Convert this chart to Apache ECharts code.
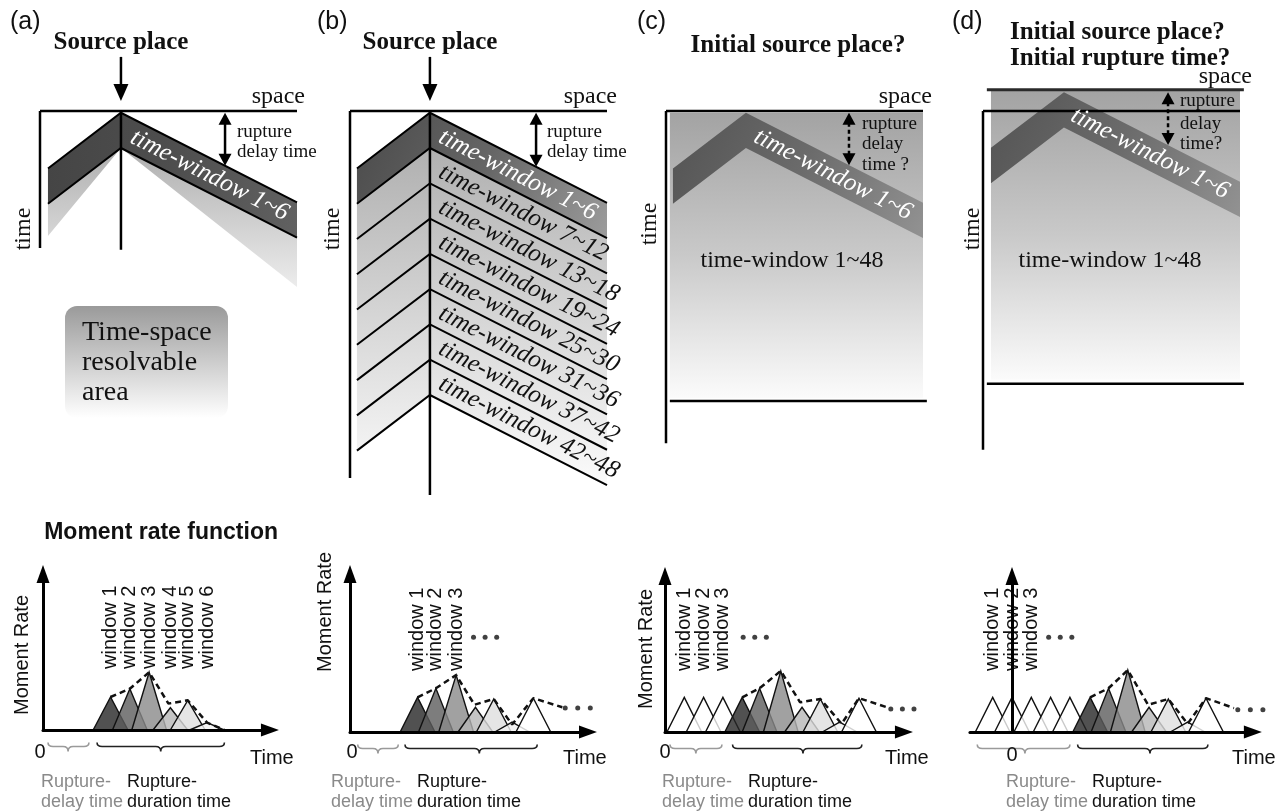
<!DOCTYPE html>
<html>
<head>
<meta charset="utf-8">
<title>Multi time-window rupture schematic</title>
<script src="https://cdn.jsdelivr.net/npm/echarts@6.0.0/dist/echarts.min.js"></script>
<style>
html, body { margin: 0; padding: 0; background: #ffffff; }
#chart { width: 1283px; height: 812px; }
</style>
</head>
<body>
<div id="chart"></div>
<script>
// ---------------- values ----------------
const panelTags = ['(a)', '(b)', '(c)', '(d)'];
const windowGroups = ['1~6', '7~12', '13~18', '19~24', '25~30', '31~36', '37~42', '42~48'];
const windowsPerGroup = 6;                    // time windows covered by one band
const sourceSpace = [31.5, 31.1, 31.1, 31.5]; // space position of the source in each schematic
const sourceTime = [0.3, 0.3, 0.3, -3.2];     // time of the first rupture front at the source
const frontFast = [3.0, 4.5];                 // rupture front speed [to smaller space, to larger space]
const frontSlow = [1.9, 2.9];                 // slowest front bounding the resolvable area

// moment-rate triangles: [peak time, amplitude]
const triangleHalfWidth = 0.9;
const delayTriA = [];
const delayTriB = [];
const delayTriC = [[1, 2.1], [2, 2.1], [3, 2.1]];
const delayTriD = [[-1, 2.1], [0, 2.1], [1, 2.1], [2, 2.1], [3, 2.1]];
const windowTriA = [[3.5, 2.0], [4.5, 2.5], [5.5, 3.5], [6.6, 1.35], [7.5, 1.8], [8.5, 0.45]];
const windowTriB = [[3.5, 2.1], [4.45, 2.65], [5.5, 3.45], [6.5, 1.5], [7.45, 2.0], [8.4, 0.6], [9.5, 2.05]];
const windowTriC = [[4.0, 2.1], [4.9, 2.65], [6.0, 3.7], [7.1, 1.5], [8.05, 2.0], [9.05, 0.6], [10.05, 2.05]];
const windowTriD = [[4.05, 2.1], [5.0, 2.65], [6.0, 3.75], [7.1, 1.5], [8.1, 2.0], [9.1, 0.6], [10.05, 2.05]];

// summed moment rate (dashed envelope)
const envelopeA = [[3.5, 2.0], [4.5, 2.5], [5.5, 3.5], [6.5, 1.6], [7.5, 1.8], [8.5, 0.45], [9.4, 0]];
const envelopeB = [[3.5, 2.1], [4.45, 2.65], [5.5, 3.45], [6.45, 1.65], [7.45, 2.0], [8.4, 0.45], [9.5, 2.05], [11.0, 1.5]];
const envelopeC = [[4.0, 2.1], [4.9, 2.65], [6.0, 3.7], [7.0, 1.8], [8.05, 2.0], [9.15, 0.5], [10.05, 2.05], [11.5, 1.5]];
const envelopeD = [[4.05, 2.1], [5.0, 2.65], [6.0, 3.75], [7.05, 1.65], [8.1, 2.0], [9.1, 0.5], [10.05, 2.05], [11.5, 1.45]];

// "..." continuation marks
const moreDotsA = [];
const moreDotsB = [[6.4, 5.75], [7.0, 5.75], [7.6, 5.75], [11.15, 1.45], [11.8, 1.45], [12.45, 1.45]];
const moreDotsC = [[4.05, 5.75], [4.65, 5.75], [5.25, 5.75], [11.7, 1.4], [12.3, 1.4], [12.9, 1.4]];
const moreDotsD = [[1.9, 5.75], [2.5, 5.75], [3.1, 5.75], [11.7, 1.35], [12.35, 1.35], [13.0, 1.35]];

// braces: [from, to, tip, 0 = rupture delay / 1 = rupture duration]
const bracesA = [[0.26, 2.38, 1.3, 0], [2.8, 9.4, 6.1, 1]];
const bracesB = [[0.4, 2.5, 1.45, 0], [2.85, 9.7, 6.7, 1]];
const bracesC = [[0.26, 2.95, 1.6, 0], [3.5, 10.2, 7.15, 1]];
const bracesD = [[-1.8, 3.0, 0.67, 0], [3.4, 10.15, 7.15, 1]];

// ---------------- layout ----------------
const SERIF = '"Liberation Serif", "Times New Roman", serif';
const SANS = '"Liberation Sans", Arial, Helvetica, sans-serif';
const S_PX = 2.57, T_PX = 5.88;      // schematic scales (px per unit)
const BT_PX = 19.3, BV_PX = 16.5;    // moment-rate scales (px per unit)

const topFrames = [
  { left: 40, zero: 111, tMin: -10, tMax: 31 },
  { left: 350, zero: 111, tMin: -10, tMax: 66 },
  { left: 666, zero: 111, tMin: -5, tMax: 57 },
  { left: 983, zero: 111, tMin: -5, tMax: 58 }
];
const topLayouts = [
  { kind: 'fan', sL: 3.1, sR: 100, axisEnd: 23.3, centreEnd: 23.6, delayS: 72, labelS: 66 },
  { kind: 'stack', sL: 2.7, sR: 100, axisEnd: 62.4, centreEnd: 65.3, delayS: 72.4 },
  { kind: 'box', sL: 2.7, sR: 100, axisEnd: 56.5, box: [1.5, 0.3, 100, 48.8], base: [1.5, 101.5, 49.3], delayS: 71.2, labelS: 65 },
  { kind: 'box', sL: 3.1, sR: 100, axisEnd: 57.6, box: [3.1, -3.4, 100, 45.7], base: [1.5, 101.5, 46.4], upper: [1.5, 101.5, -3.6], delayS: 72, labelS: 65 }
];
const bottomFrames = [
  { originX: 43, originY: 730, tMin: 0, tMax: 11.76, vMax: 9.45 },
  { originX: 350, originY: 732, tMin: 0, tMax: 12.33, vMax: 9.58 },
  { originX: 665, originY: 732, tMin: 0, tMax: 12.38, vMax: 9.45 },
  { originX: 1012, originY: 732, tMin: -2.18, tMax: 12.48, vMax: 9.45 }
];

const windowFills = ['#262626', '#5c5c5c', '#8a8a8a', '#b6b6b6', '#dedede', '#f3f3f3', '#ffffff'];
const labelLevel = 3.7;
const braceLevel = -1.0;

// ---------------- drawing helpers ----------------
function gradient(x1, y1, x2, y2, colors) {
  return new echarts.graphic.LinearGradient(x1, y1, x2, y2,
    colors.map((c, i) => ({ offset: i / (colors.length - 1), color: c })), true);
}
function poly(points, fill) {
  return { type: 'polygon', shape: { points: points }, style: { fill: fill, stroke: null } };
}
function pline(points, w) {
  return { type: 'polyline', shape: { points: points }, style: { stroke: '#000', lineWidth: w, fill: 'none', lineJoin: 'miter' } };
}
function seg(a, b, w, color, dash) {
  return { type: 'line', shape: { x1: a[0], y1: a[1], x2: b[0], y2: b[1] },
    style: { stroke: color || '#000', lineWidth: w, lineDash: dash || null } };
}
function head(tip, from, len, half) {
  const dx = tip[0] - from[0], dy = tip[1] - from[1], L = Math.hypot(dx, dy);
  const ux = dx / L, uy = dy / L, bx = tip[0] - ux * len, by = tip[1] - uy * len;
  return { type: 'polygon', shape: { points: [tip, [bx - uy * half, by + ux * half], [bx + uy * half, by - ux * half]] },
    style: { fill: '#000' } };
}

// ---------------- time-space schematics ----------------
function renderTop(p) {
  const L = topLayouts[p];
  return function (params, api) {
    const x0 = sourceSpace[p], t0 = sourceTime[p], W = windowsPerGroup;
    const c = (s, t) => api.coord([s, t]);
    const lag = (s, v) => (s < x0 ? (x0 - s) / v[0] : (s - x0) / v[1]);
    const front = s => t0 + lag(s, frontFast);
    const chevron = dt => [c(L.sL, front(L.sL) + dt), c(x0, t0 + dt), c(L.sR, front(L.sR) + dt)];
    const band = (a, b) => chevron(a).concat(chevron(b).reverse());
    const apex = c(x0, t0), wingEnd = c(L.sR, front(L.sR));
    const tilt = -Math.atan2(wingEnd[1] - apex[1], wingEnd[0] - apex[0]);
    const xl = c(L.sL, 0)[0], xr = c(L.sR, 0)[0];
    const kids = [];

    if (L.kind === 'fan') {
      const slowEdge = s => t0 + W + lag(s, frontSlow);
      const fan = chevron(0).concat([c(L.sR, slowEdge(L.sR)), c(x0, t0 + W), c(L.sL, slowEdge(L.sL))]);
      kids.push(poly(fan, gradient(0, apex[1], 0, c(0, slowEdge(L.sR))[1], ['#9e9e9e', '#c6c6c6', '#ececec'])));
      kids.push(poly(band(0, W), gradient(xl, 0, xr, 0, ['#454545', '#4e4e4e', '#616161'])));
      kids.push(pline(chevron(0), 2), pline(chevron(W), 2));
    } else if (L.kind === 'stack') {
      const n = windowGroups.length;
      kids.push(poly(band(W, n * W), gradient(0, c(0, t0 + W)[1], 0, c(0, front(L.sR) + n * W)[1], ['#b0b0b0', '#fbfbfb'])));
      kids.push(poly(band(0, W), gradient(xl, apex[1], xr, c(L.sR, front(L.sR) + W)[1], ['#4a4a4a', '#666666', '#9c9c9c'])));
      for (let k = 0; k <= n; k++) kids.push(pline(chevron(k * W), 2));
    } else {
      const b = L.box;
      kids.push(poly([c(b[0], b[1]), c(b[2], b[1]), c(b[2], b[3]), c(b[0], b[3])],
        gradient(0, c(0, b[1])[1], 0, c(0, b[3])[1], ['#a3a3a3', '#c9c9c9', '#fbfbfb'])));
      kids.push(poly(band(0, W), gradient(xl, apex[1], xr, c(L.sR, front(L.sR) + W)[1], ['#535353', '#6b6b6b', '#929292'])));
      if (L.upper) kids.push(seg(c(L.upper[0], L.upper[2]), c(L.upper[1], L.upper[2]), 3, '#2a2a2a'));
      kids.push(seg(c(L.base[0], L.base[2]), c(L.base[1], L.base[2]), 2.5));
    }

    // space and time axes of the schematic
    kids.push(seg(c(0, 0), c(100, 0), 2.5));
    kids.push(seg(c(0, 0), c(0, L.axisEnd), 2.5));
    if (L.centreEnd) kids.push(seg(c(x0, 0), c(x0, L.centreEnd), 2.5));

    // arrow down onto the source
    if (L.kind !== 'box') {
      const a = c(x0, -9.2), tip = c(x0, -1.7);
      kids.push(seg(a, [tip[0], tip[1] - 12], 2.5));
      kids.push(head(tip, a, 17, 7.5));
    }

    // rupture delay time arrow
    const top = c(L.delayS, t0), bottom = c(L.delayS, front(L.delayS));
    kids.push(seg([top[0], top[1] + 10], [bottom[0], bottom[1] - 10], 2.5, '#000', L.kind === 'box' ? [4, 3] : null));
    kids.push(head(top, bottom, 12, 6.5), head(bottom, top, 12, 6.5));

    // band labels
    const label = (s, k, color, align) => {
      const pt = c(s, front(s) + k * W + W / 2);
      return { type: 'text', x: pt[0], y: pt[1], rotation: tilt,
        style: { text: 'time-window ' + windowGroups[k], font: 'italic 25px ' + SERIF, fill: color,
          align: align, verticalAlign: 'middle', textAlign: align, textVerticalAlign: 'middle' } };
    };
    if (L.kind === 'stack') {
      windowGroups.forEach((g, k) => kids.push(label(x0 + 4, k, k === 0 ? '#ffffff' : '#111111', 'left')));
    } else {
      kids.push(label(L.labelS, 0, '#ffffff', 'center'));
    }
    return { type: 'group', children: kids };
  };
}

// ---------------- moment-rate panels ----------------
function renderTriangle(params, api) {
  const peak = api.value(0), amp = api.value(1), k = api.value(2);
  const pts = [api.coord([peak - triangleHalfWidth, 0]), api.coord([peak, amp]), api.coord([peak + triangleHalfWidth, 0])];
  const fill = k < 0 ? 'rgba(255,255,255,0.78)' : echarts.color.modifyAlpha(windowFills[k], 0.8);
  return { type: 'polygon', shape: { points: pts }, style: { fill: fill, stroke: '#111', lineWidth: 1.4, lineJoin: 'miter' } };
}
function renderWindowLabel(params, api) {
  const pt = api.coord([api.value(0), api.value(1)]);
  return { type: 'text', x: pt[0], y: pt[1], rotation: Math.PI / 2,
    style: { text: 'window ' + (params.dataIndex + 1), font: '20px ' + SANS, fill: '#111',
      align: 'left', verticalAlign: 'middle', textAlign: 'left', textVerticalAlign: 'middle' } };
}
function renderBrace(params, api) {
  const a = api.coord([api.value(0), braceLevel]), b = api.coord([api.value(1), braceLevel]), m = api.coord([api.value(2), braceLevel]);
  const y = a[1], r = 5;
  const d = 'M' + a[0] + ',' + (y - 4) + ' Q' + a[0] + ',' + y + ' ' + (a[0] + r) + ',' + y +
    ' L' + (m[0] - r) + ',' + y + ' Q' + m[0] + ',' + y + ' ' + m[0] + ',' + (y + 5) +
    ' Q' + m[0] + ',' + y + ' ' + (m[0] + r) + ',' + y +
    ' L' + (b[0] - r) + ',' + y + ' Q' + b[0] + ',' + y + ' ' + b[0] + ',' + (y - 4);
  return { type: 'path', shape: { pathData: d },
    style: { fill: 'none', stroke: api.value(3) ? '#222222' : '#9a9a9a', lineWidth: 1.6 } };
}

const rateDelay = [delayTriA, delayTriB, delayTriC, delayTriD];
const rateWindows = [windowTriA, windowTriB, windowTriC, windowTriD];
const envelopes = [envelopeA, envelopeB, envelopeC, envelopeD];
const moreDots = [moreDotsA, moreDotsB, moreDotsC, moreDotsD];
const braces = [bracesA, bracesB, bracesC, bracesD];
const windowLabelTimes = [
  windowTriA.map(d => d[0]),
  windowTriB.slice(0, 3).map(d => d[0]),
  delayTriC.map(d => d[0]),
  delayTriD.slice(0, 3).map(d => d[0])
];

// ---------------- assemble ----------------
const grid = [], xAxis = [], yAxis = [], series = [];
topFrames.forEach((f, i) => {
  grid.push({ left: f.left, top: f.zero + f.tMin * T_PX, width: 100 * S_PX, height: (f.tMax - f.tMin) * T_PX, outerBoundsMode: 'none' });
  xAxis.push({ gridIndex: i, type: 'value', min: 0, max: 100, show: false });
  yAxis.push({ gridIndex: i, type: 'value', min: f.tMin, max: f.tMax, inverse: true, show: false });
  series.push({ type: 'custom', xAxisIndex: i, yAxisIndex: i, data: [[0, 0]], renderItem: renderTop(i), clip: false, silent: true });
});
bottomFrames.forEach((f, j) => {
  const gi = 4 + j;
  grid.push({ left: f.originX + f.tMin * BT_PX, top: f.originY - f.vMax * BV_PX,
    width: (f.tMax - f.tMin) * BT_PX, height: f.vMax * BV_PX, outerBoundsMode: 'none' });
  const axisLine = { show: true, onZero: true, symbol: ['none', 'triangle'], symbolSize: [13, 18], lineStyle: { color: '#000', width: 3 } };
  const hidden = { axisTick: { show: false }, axisLabel: { show: false }, splitLine: { show: false } };
  xAxis.push(Object.assign({ gridIndex: gi, type: 'value', min: f.tMin, max: f.tMax, z: 10, axisLine: axisLine }, hidden));
  yAxis.push(Object.assign({ gridIndex: gi, type: 'value', min: 0, max: f.vMax, z: 10, axisLine: axisLine }, hidden));

  const tri = rateDelay[j].map(d => [d[0], d[1], -1]).concat(rateWindows[j].map((d, k) => [d[0], d[1], k]));
  series.push({ type: 'custom', xAxisIndex: gi, yAxisIndex: gi, data: tri, renderItem: renderTriangle, clip: false, silent: true, z: 2 });
  series.push({ type: 'line', xAxisIndex: gi, yAxisIndex: gi, data: envelopes[j], symbol: 'none', clip: false, silent: true, z: 3,
    lineStyle: { color: '#111', width: 2.5, type: [6, 4] } });
  if (moreDots[j].length) {
    series.push({ type: 'scatter', xAxisIndex: gi, yAxisIndex: gi, data: moreDots[j], symbolSize: 5, clip: false, silent: true, z: 3,
      itemStyle: { color: '#111' } });
  }
  series.push({ type: 'custom', xAxisIndex: gi, yAxisIndex: gi, data: windowLabelTimes[j].map(t => [t, labelLevel]),
    renderItem: renderWindowLabel, clip: false, silent: true, z: 4 });
  series.push({ type: 'custom', xAxisIndex: gi, yAxisIndex: gi, data: braces[j], renderItem: renderBrace, clip: false, silent: true, z: 4 });
});

// free text
function t(x, y, text, font, opt) {
  opt = opt || {};
  const align = opt.align || 'left';
  return { type: 'text', x: x, y: y, rotation: opt.rotation || 0, z: 100, silent: true,
    style: { text: text, font: font, fill: opt.fill || '#111', align: align, verticalAlign: 'middle',
      textAlign: align, textVerticalAlign: 'middle' } };
}
const tagFont = '25px ' + SANS, headFont = 'bold 25px ' + SERIF, wordFont = '24px ' + SERIF, smallSerif = '19px ' + SERIF;
const labelSans = '20px ' + SANS, noteSans = '18px ' + SANS;
const up = Math.PI / 2;
const elements = [
  t(10, 22, panelTags[0], tagFont), t(317, 22, panelTags[1], tagFont), t(637, 22, panelTags[2], tagFont), t(952, 22, panelTags[3], tagFont),
  t(121, 43, 'Source place', headFont, { align: 'center' }),
  t(430, 43, 'Source place', headFont, { align: 'center' }),
  t(798, 46, 'Initial source place?', headFont, { align: 'center' }),
  t(1010, 33, 'Initial source place?', headFont),
  t(1010, 59, 'Initial rupture time?', headFont),
  t(305, 97, 'space', wordFont, { align: 'right' }), t(617, 97, 'space', wordFont, { align: 'right' }),
  t(932, 97, 'space', wordFont, { align: 'right' }), t(1252, 77, 'space', wordFont, { align: 'right' }),
  t(24, 229, 'time', wordFont, { align: 'center', rotation: up }), t(333, 229, 'time', wordFont, { align: 'center', rotation: up }),
  t(650, 224, 'time', wordFont, { align: 'center', rotation: up }), t(973, 229, 'time', wordFont, { align: 'center', rotation: up }),
  t(237, 132, 'rupture', smallSerif), t(237, 152, 'delay time', smallSerif),
  t(547, 132, 'rupture', smallSerif), t(547, 152, 'delay time', smallSerif),
  t(862, 124, 'rupture', smallSerif), t(862, 144, 'delay', smallSerif), t(862, 165, 'time ?', smallSerif),
  t(1180, 101, 'rupture', smallSerif), t(1180, 124, 'delay', smallSerif), t(1180, 144, 'time?', smallSerif),
  t(792, 261, 'time-window 1~48', wordFont, { align: 'center' }),
  t(1110, 261, 'time-window 1~48', wordFont, { align: 'center' }),
  { type: 'rect', z: 90, silent: true, shape: { x: 65, y: 306, width: 163, height: 112, r: 12 },
    style: { fill: new echarts.graphic.LinearGradient(0, 0, 0, 1, [{ offset: 0, color: '#9a9a9a' }, { offset: 1, color: '#ffffff' }]) } },
  t(82, 333, 'Time-space', '28px ' + SERIF), t(82, 363, 'resolvable', '28px ' + SERIF), t(82, 393, 'area', '28px ' + SERIF),
  t(278, 533, 'Moment rate function', 'bold 23px ' + SANS, { align: 'right' }),
  t(22, 655, 'Moment Rate', labelSans, { align: 'center', rotation: up }),
  t(325, 612, 'Moment Rate', labelSans, { align: 'center', rotation: up }),
  t(646, 649, 'Moment Rate', labelSans, { align: 'center', rotation: up }),
  t(40, 752, '0', labelSans, { align: 'center' }), t(352, 752, '0', labelSans, { align: 'center' }),
  t(665, 752, '0', labelSans, { align: 'center' }), t(1012, 755, '0', labelSans, { align: 'center' }),
  t(250, 758, 'Time', labelSans), t(563, 758, 'Time', labelSans), t(885, 758, 'Time', labelSans), t(1232, 758, 'Time', labelSans)
];
[[41, 127], [331, 417], [662, 748], [1006, 1092]].forEach(p => {
  elements.push(t(p[0], 782, 'Rupture-', noteSans, { fill: '#8a8a8a' }), t(p[0], 802, 'delay time', noteSans, { fill: '#8a8a8a' }));
  elements.push(t(p[1], 782, 'Rupture-', noteSans), t(p[1], 802, 'duration time', noteSans));
});

const chart = echarts.init(document.getElementById('chart'), null, { renderer: 'canvas' });
chart.setOption({
  animation: false,
  backgroundColor: '#ffffff',
  grid: grid,
  xAxis: xAxis,
  yAxis: yAxis,
  series: series,
  graphic: { elements: elements }
});
</script>
</body>
</html>
